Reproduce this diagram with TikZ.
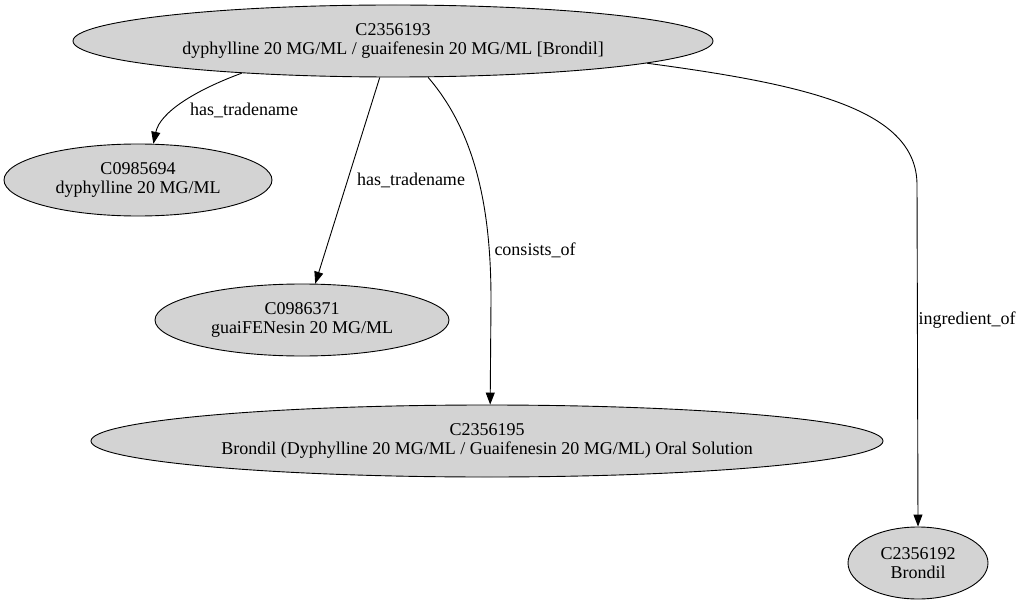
\documentclass[tikz,border=0pt]{standalone}
\usepackage{fontspec}
\setmainfont{Liberation Serif}
\usetikzlibrary{shapes.geometric,arrows.meta}
\definecolor{nodegray}{RGB}{211,211,211}
\tikzset{
  gnode/.style={ellipse, draw=black, fill=nodegray, line width=0.9pt, inner sep=0pt, align=center, font=\fontsize{18}{19}\selectfont},
  edge/.style={draw=black, line width=0.9pt, -{Triangle[length=12pt,width=9pt]}},
  elabel/.style={font=\fontsize{18}{19}\selectfont, inner sep=0pt}
}
\begin{document}
\begin{tikzpicture}[x=1pt,y=-1pt]
\useasboundingbox (0,0) rectangle (1022,604);
\node[gnode, minimum width=640pt, minimum height=72pt] (n1) at (393,41) {C2356193\\dyphylline 20 MG/ML / guaifenesin 20 MG/ML [Brondil]};
\node[gnode, minimum width=268pt, minimum height=72pt] (n2) at (138,180) {C0985694\\dyphylline 20 MG/ML};
\node[gnode, minimum width=294pt, minimum height=72pt] (n3) at (302,320) {C0986371\\guaiFENesin 20 MG/ML};
\node[gnode, minimum width=792pt, minimum height=72pt] (n4) at (487,441) {C2356195\\Brondil (Dyphylline 20 MG/ML / Guaifenesin 20 MG/ML) Oral Solution};
\node[gnode, minimum width=140pt, minimum height=72pt] (n5) at (918,563) {C2356192\\Brondil};

\draw[edge] (n1.192.4) .. controls (196,90) and (160,112) .. (n2.67);
\node[elabel] (l1) at (244,110) {has\_tradename};
\draw[edge] (n1.250) -- (n3.70);
\node[elabel] (l2) at (411,180) {has\_tradename};
\draw[edge] (n1.-46) .. controls (478,135) and (491,215) .. (491,300) -- (n4.85);
\node[elabel] (l3) at (535,250) {consists\_of};
\draw[edge] (n1.-5) .. controls (810,85) and (917,110) .. (917,185) -- (n5.90);
\node[elabel] (l4) at (967,320) {ingredient\_of};
\end{tikzpicture}
\end{document}
